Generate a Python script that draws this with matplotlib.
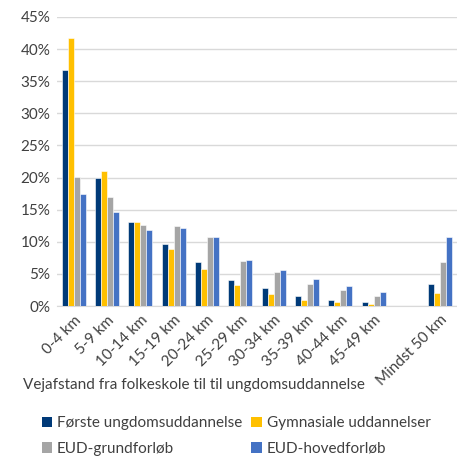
import numpy as np
import matplotlib
matplotlib.use('Agg')
import matplotlib.pyplot as plt
from matplotlib.patches import Patch

plt.rcParams['font.family'] = ['Lato', 'DejaVu Sans']

# kategorier (tom plads før "Mindst 50 km")
kategorier = ['0-4 km', '5-9 km', '10-14 km', '15-19 km', '20-24 km', '25-29 km',
              '30-34 km', '35-39 km', '40-44 km', '45-49 km', '', 'Mindst 50 km']

# andele i procent (nan = tom plads)
foerste = [36.8, 19.9, 13.0, 9.7, 6.9, 4.0, 2.8, 1.6, 1.0, 0.6, np.nan, 3.4]
gymnasiale = [41.7, 21.0, 13.1, 8.9, 5.7, 3.2, 1.9, 0.9, 0.7, 0.3, np.nan, 2.0]
eud_grund = [20.1, 17.0, 12.6, 12.5, 10.8, 7.0, 5.3, 3.5, 2.5, 1.6, np.nan, 6.9]
eud_hoved = [17.4, 14.7, 11.9, 12.2, 10.7, 7.1, 5.6, 4.2, 3.1, 2.2, np.nan, 10.8]

serier = ['Første ungdomsuddannelse', 'Gymnasiale uddannelser', 'EUD-grundforløb', 'EUD-hovedforløb']
farver = ['#003A78', '#FFC000', '#A5A5A5', '#4472C4']

fig = plt.figure(figsize=(4.57, 4.57), dpi=100)
ax = fig.add_axes([0.125, 0.3304, 0.875, 0.6326])

x = np.arange(len(kategorier))
w = 0.18
for i, (vals, c) in enumerate(zip([foerste, gymnasiale, eud_grund, eud_hoved], farver)):
    ax.bar(x + (i - 1.5) * w, vals, width=w, color=c, edgecolor='white', linewidth=0.4, zorder=3)

ax.set_xlim(-0.5, len(kategorier) - 0.5)
ax.set_ylim(0, 45)
ax.set_yticks(np.arange(0, 46, 5))
ax.set_yticklabels([f'{v}%' for v in range(0, 46, 5)], fontsize=11, color='#404040')
ax.set_xticks(x)
ax.set_xticklabels(kategorier, rotation=45, ha='right', rotation_mode='anchor',
                   fontsize=11, color='#404040')
ax.tick_params(length=0, pad=5)
ax.grid(axis='y', color='#D9D9D9', linewidth=1, zorder=0)
for s in ['top', 'right', 'left']:
    ax.spines[s].set_visible(False)
ax.spines['bottom'].set_color('#D9D9D9')

fig.text(0.05, 0.158, 'Vejafstand fra folkeskole til til ungdomsuddannelse',
         fontsize=11, color='#404040', va='center')

handles = [Patch(facecolor=c, edgecolor='none') for c in farver]
order = [0, 2, 1, 3]
fig.legend([handles[k] for k in order], [serier[k] for k in order], ncol=2,
           loc='upper left', bbox_to_anchor=(0.061, 0.119), frameon=False, fontsize=11,
           handlelength=0.7, handleheight=0.7, handletextpad=0.3, columnspacing=0.6,
           labelcolor='#404040', labelspacing=0.75)

fig.savefig('out.png', dpi=100)
